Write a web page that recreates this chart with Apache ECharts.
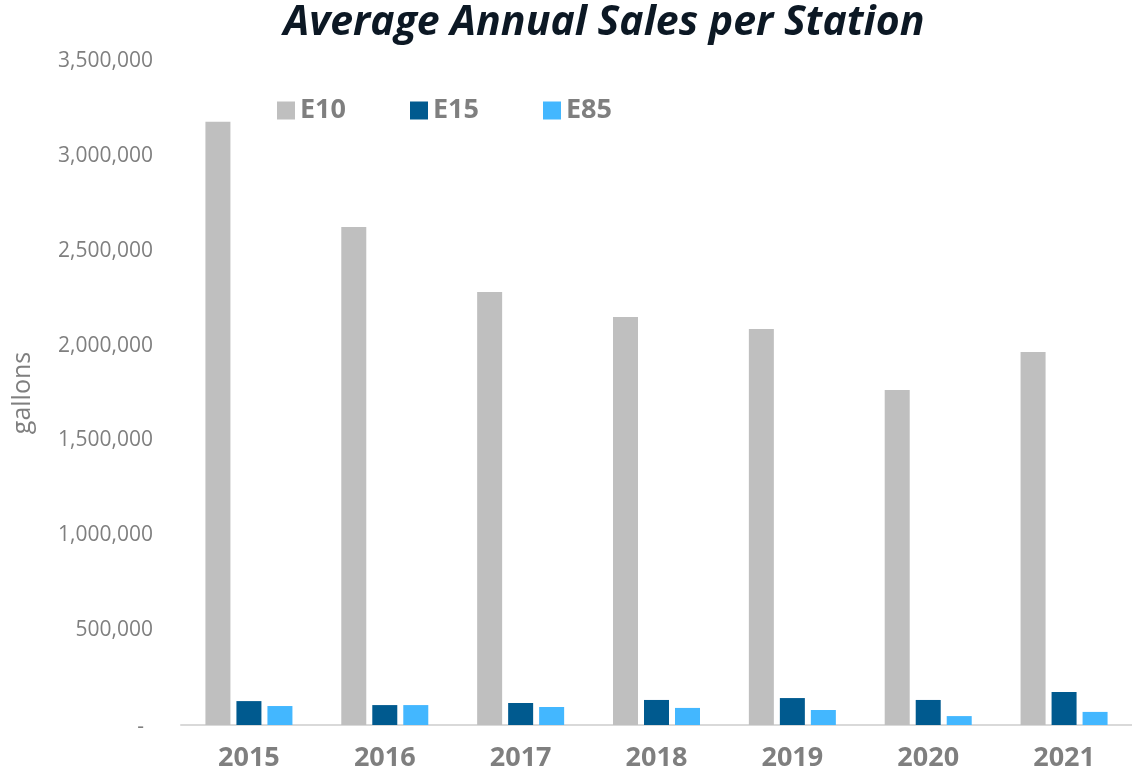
<!DOCTYPE html>
<html>
<head>
<meta charset="utf-8">
<script src="https://cdn.jsdelivr.net/npm/echarts@6/dist/echarts.min.js"></script>
<style>
  html, body { margin: 0; padding: 0; background: #ffffff; }
  #chart { width: 1132px; height: 777px; }
</style>
</head>
<body>
<div id="chart"></div>
<script>
// Average annual fuel sales per station, gallons
const years = ['2015', '2016', '2017', '2018', '2019', '2020', '2021'];
const e10 = [3180000, 2625000, 2282000, 2151000, 2087000, 1766000, 1966000];
const e15 = [126000, 105000, 116000, 132000, 142000, 132000, 174000];
const e85 = [100000, 105000, 95000, 90000, 79000, 47000, 69000];
const seriesNames = ['E10', 'E15', 'E85'];
const seriesColors = ['#bfbfbf', '#005a8f', '#43b7ff'];

const chart = echarts.init(document.getElementById('chart'), null, { renderer: 'canvas' });

const grey = '#7f7f7f';
const font = 'Open Sans';

function fmt(v) {
  if (v === 0) return '-';
  return v.toString().replace(/\B(?=(\d{3})+(?!\d))/g, ',');
}

const values = [e10, e15, e85];

chart.setOption({
  animation: false,
  backgroundColor: '#ffffff',
  title: {
    text: 'Average Annual Sales per Station',
    left: 599,
    textAlign: 'center',
    top: -2,
    textStyle: {
      fontFamily: font,
      fontWeight: 'bold',
      fontStyle: 'italic',
      fontSize: 41,
      color: '#0c1824'
    }
  },
  legend: {
    data: seriesNames,
    left: 272,
    top: 92,
    itemWidth: 18,
    itemHeight: 18,
    itemGap: 64,
    icon: 'rect',
    textStyle: {
      fontFamily: font,
      fontWeight: 'bold',
      fontSize: 27,
      color: grey
    }
  },
  grid: {
    left: 181,
    top: 61,
    width: 966,
    height: 664,
    containLabel: false
  },
  xAxis: {
    type: 'category',
    data: years,
    axisLine: { show: true, lineStyle: { color: '#d9d9d9', width: 2 } },
    axisTick: { show: false },
    axisLabel: {
      fontFamily: font,
      fontWeight: 'bold',
      fontSize: 27,
      color: grey,
      margin: 20
    }
  },
  yAxis: {
    type: 'value',
    min: 0,
    max: 3500000,
    interval: 500000,
    name: 'gallons',
    nameLocation: 'middle',
    nameGap: 146,
    nameTextStyle: { fontFamily: font, fontSize: 25, color: grey },
    axisLine: { show: false },
    axisTick: { show: false },
    splitLine: { show: false },
    axisLabel: {
      fontFamily: font,
      fontSize: 21,
      color: grey,
      margin: 28,
      formatter: function (v) {
        return v === 0 ? '{z|-}' : fmt(v);
      },
      rich: {
        z: { fontFamily: font, fontSize: 21, color: grey, padding: [4, 9, 0, 0] }
      }
    }
  },
  series: seriesNames.map(function (name, i) {
    return {
      name: name,
      type: 'bar',
      data: values[i],
      barWidth: 25,
      barGap: '24%',
      itemStyle: { color: seriesColors[i] }
    };
  })
});
</script>
</body>
</html>
